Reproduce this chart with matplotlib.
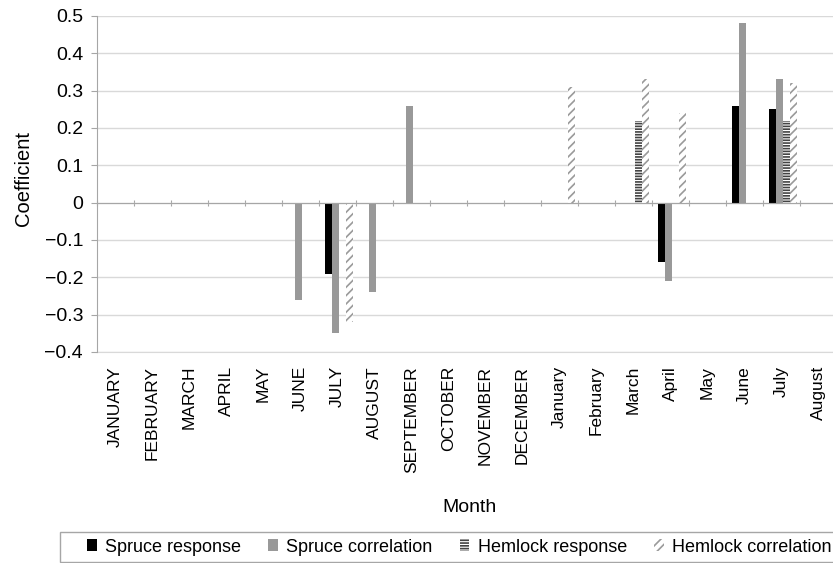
import matplotlib
matplotlib.use("Agg")
import matplotlib.pyplot as plt
import numpy as np
from matplotlib.patches import Patch, Rectangle

plt.rcParams["font.family"] = ["Liberation Sans", "DejaVu Sans"]
plt.rcParams["hatch.linewidth"] = 1.2

months = ["JANUARY", "FEBRUARY", "MARCH", "APRIL", "MAY", "JUNE", "JULY",
          "AUGUST", "SEPTEMBER", "OCTOBER", "NOVEMBER", "DECEMBER",
          "January", "February", "March", "April", "May", "June", "July",
          "August"]

spruce_response = [0, 0, 0, 0, 0, 0, -0.19, 0, 0, 0, 0, 0,
                   0, 0, 0, -0.16, 0, 0.26, 0.25, 0]
spruce_correlation = [0, 0, 0, 0, 0, -0.26, -0.35, -0.24, 0.26, 0, 0, 0,
                      0, 0, 0, -0.21, 0, 0.48, 0.33, 0]
hemlock_response = [0, 0, 0, 0, 0, 0, 0, 0, 0, 0, 0, 0,
                    0, 0, 0.22, 0, 0, 0, 0.22, 0]
hemlock_correlation = [0, 0, 0, 0, 0, 0, -0.32, 0, 0, 0, 0, 0,
                       0.31, 0, 0.33, 0.24, 0, 0, 0.32, 0]

W, H = 833, 563
GRID = "#d9d9d9"
AXIS = "#a6a6a6"
GRAY = "#999999"

fig = plt.figure(figsize=(W / 100, H / 100), dpi=100)
ax = fig.add_axes([97 / W, 1 - 352 / H, 740 / W, 336 / H])

x = np.arange(len(months))
w = 0.19
offs = [-1.5 * w, -0.5 * w, 0.5 * w, 1.5 * w]
shift = 0.04

ax.bar(x + shift + offs[0], spruce_response, w, color="black", linewidth=0)
ax.bar(x + shift + offs[1], spruce_correlation, w, color=GRAY, linewidth=0)
ax.bar(x + shift + offs[2], hemlock_response, w, facecolor="white",
       edgecolor="#444444", hatch="------", linewidth=0)
ax.bar(x + shift + offs[3], hemlock_correlation, w, facecolor="white",
       edgecolor="#9a9a9a", hatch="////", linewidth=0)

ax.set_xlim(-0.5, len(months) - 0.5)
ax.set_ylim(-0.4, 0.5)
ax.set_yticks(np.round(np.arange(-0.4, 0.51, 0.1), 1))
ax.set_yticklabels(["\u22120.4", "\u22120.3", "\u22120.2", "\u22120.1", "0",
                    "0.1", "0.2", "0.3", "0.4", "0.5"])
ax.yaxis.grid(True, color=GRID, linewidth=1)
ax.set_axisbelow(True)
ax.tick_params(axis="y", length=4, color=AXIS, labelsize=14, pad=6)

for s in ("top", "right"):
    ax.spines[s].set_visible(False)
ax.spines["left"].set_color(AXIS)
ax.spines["bottom"].set_position(("data", 0))
ax.spines["bottom"].set_color(AXIS)
ax.set_xticks(np.arange(-0.5, len(months), 1.0))
ax.tick_params(axis="x", direction="inout", length=5, color=AXIS,
               labelbottom=False)

sec = ax.secondary_xaxis("bottom")
sec.set_xticks(x)
sec.set_xticklabels(months, rotation=90, fontsize=12.5)
sec.tick_params(length=0, pad=10)
sec.spines["bottom"].set_color(GRID)

fig.text(24 / W, 1 - 178 / H, "Coefficient", rotation=90, ha="center",
         va="center", fontsize=14.5)
fig.text(469 / W, 1 - 508 / H, "Month", ha="center", va="center",
         fontsize=14)

# legend box, open on the right like the source
fig.patches.append(Rectangle((60 / W, 1 - 562 / H), 800 / W, 30 / H,
                             transform=fig.transFigure, facecolor="white",
                             edgecolor=AXIS, linewidth=1, clip_on=False))

handles = [
    Patch(facecolor="black", label="Spruce response"),
    Patch(facecolor=GRAY, label="Spruce correlation"),
    Patch(facecolor="white", edgecolor="#444444", hatch="------",
          linewidth=0, label="Hemlock response"),
    Patch(facecolor="white", edgecolor="#9a9a9a", hatch="////",
          linewidth=0, label="Hemlock correlation"),
]
fig.legend(handles=handles, ncol=4, loc="center left",
           bbox_to_anchor=(87 / W, 1 - 547 / H), frameon=False,
           fontsize=13, handlelength=0.55, handleheight=0.6,
           handletextpad=0.45, columnspacing=1.5, borderpad=0,
           borderaxespad=0)

fig.savefig("out.png", dpi=100)
